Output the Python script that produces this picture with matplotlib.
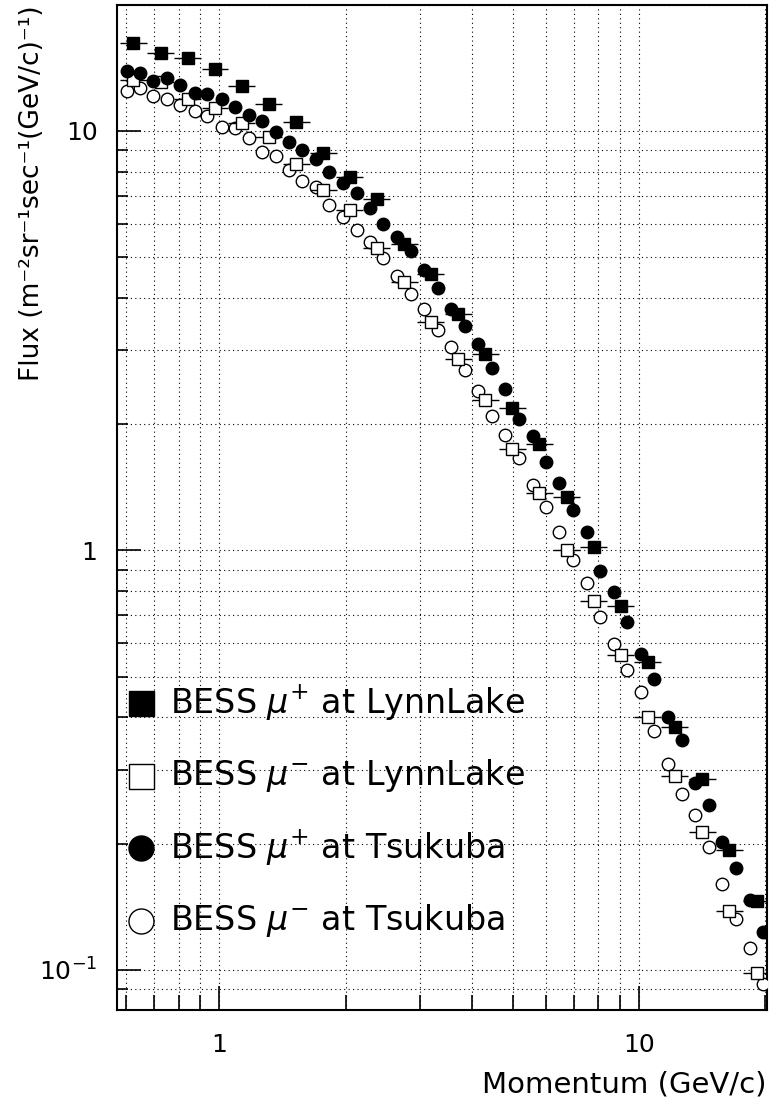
import matplotlib
matplotlib.use('Agg')
import matplotlib.pyplot as plt
import numpy as np
from matplotlib.ticker import LogLocator, FixedLocator, FixedFormatter, NullFormatter

# BESS LynnLake (wide momentum bins), momentum in GeV/c, flux in m^-2 sr^-1 s^-1 (GeV/c)^-1
ll_p = [0.623, 0.725, 0.841, 0.976, 1.131, 1.312, 1.524, 1.768, 2.047, 2.374,
        2.757, 3.193, 3.709, 4.301, 4.989, 5.791, 6.724, 7.798, 9.046, 10.50,
        12.18, 14.16, 16.42, 19.08]
ll_mu_plus = [16.23, 15.32, 14.95, 14.05, 12.80, 11.58, 10.51, 8.85, 7.77, 6.89,
              5.37, 4.55, 3.66, 2.94, 2.19, 1.792, 1.339, 1.018, 0.735, 0.543,
              0.3789, 0.2848, 0.1925, 0.1456]
ll_mu_minus = [13.23, 13.11, 11.92, 11.33, 10.43, 9.69, 8.33, 7.24, 6.48, 5.27,
               4.37, 3.51, 2.86, 2.28, 1.743, 1.373, 1.003, 0.759, 0.563, 0.4004,
               0.290, 0.2129, 0.1384, 0.0982]
ll_bin_half = 0.032  # half bin width in log10(p)

# BESS Tsukuba (narrow bins)
tk_p = [0.601, 0.646, 0.695, 0.750, 0.806, 0.873, 0.935, 1.012, 1.087, 1.174,
        1.263, 1.361, 1.464, 1.575, 1.699, 1.827, 1.973, 2.124, 2.285, 2.458,
        2.653, 2.856, 3.077, 3.313, 3.563, 3.841, 4.140, 4.463, 4.801, 5.184,
        5.580, 6.002, 6.457, 6.972, 7.506, 8.088, 8.704, 9.378, 10.11, 10.88,
        11.75, 12.66, 13.60, 14.66, 15.80, 17.03, 18.39, 19.72]
tk_mu_plus = [13.90, 13.77, 13.14, 13.36, 12.87, 12.34, 12.25, 11.94, 11.39, 10.90,
              10.56, 9.96, 9.40, 8.99, 8.59, 7.97, 7.53, 7.10, 6.54, 6.00,
              5.60, 5.16, 4.65, 4.22, 3.76, 3.43, 3.10, 2.72, 2.42, 2.06,
              1.875, 1.628, 1.451, 1.249, 1.103, 0.894, 0.796, 0.674, 0.566, 0.494,
              0.3995, 0.3534, 0.2786, 0.2472, 0.2021, 0.1753, 0.1468, 0.1230]
tk_mu_minus = [12.48, 12.64, 12.14, 11.90, 11.53, 11.16, 10.88, 10.22, 10.15, 9.61,
               8.93, 8.73, 8.07, 7.60, 7.34, 6.67, 6.25, 5.79, 5.43, 4.97,
               4.51, 4.08, 3.77, 3.35, 3.05, 2.69, 2.40, 2.09, 1.882, 1.661,
               1.432, 1.271, 1.103, 0.946, 0.838, 0.693, 0.598, 0.519, 0.4607, 0.3718,
               0.3098, 0.2627, 0.2341, 0.1961, 0.1601, 0.1320, 0.1126, 0.0926]

legend_labels = [r'BESS $\mu^{+}$ at LynnLake', r'BESS $\mu^{-}$ at LynnLake',
                 r'BESS $\mu^{+}$ at Tsukuba', r'BESS $\mu^{-}$ at Tsukuba']

plt.rcParams['mathtext.fontset'] = 'dejavusans'

fig = plt.figure(figsize=(7.71, 11.01), dpi=100)
ax = fig.add_axes([117/771, 1-1010.4/1101, 650/771, 1005.7/1101])
ax.set_xscale('log')
ax.set_yscale('log')
ax.set_xlim(0.57, 20.2)
ax.set_ylim(0.08, 20)

ll_p_arr = np.array(ll_p)
xerr = [ll_p_arr - ll_p_arr / 10**ll_bin_half, ll_p_arr * 10**ll_bin_half - ll_p_arr]

ms = 9
ax.plot(tk_p, tk_mu_minus, 'o', ms=ms, mfc='white', mec='black', mew=1, zorder=3)
ax.errorbar(ll_p, ll_mu_minus, xerr=xerr, fmt='s', ms=ms, mfc='white', mec='black',
            mew=1, ecolor='black', elinewidth=1, capsize=0, zorder=3)
ax.plot(tk_p, tk_mu_plus, 'o', ms=ms, color='black', zorder=4)
ax.errorbar(ll_p, ll_mu_plus, xerr=xerr, fmt='s', ms=ms, color='black',
            ecolor='black', elinewidth=1, capsize=0, zorder=4)

# ticks & grid
ax.xaxis.set_major_locator(FixedLocator([1, 10]))
ax.xaxis.set_major_formatter(FixedFormatter(['1', '10']))
ax.xaxis.set_minor_locator(LogLocator(base=10, subs=np.arange(2, 10)))
ax.xaxis.set_minor_formatter(NullFormatter())
ax.yaxis.set_major_locator(FixedLocator([0.1, 1, 10]))
ax.yaxis.set_major_formatter(FixedFormatter([r'$10^{-1}$', '1', '10']))
ax.yaxis.set_minor_locator(LogLocator(base=10, subs=np.arange(2, 10)))
ax.yaxis.set_minor_formatter(NullFormatter())

ax.tick_params(axis='both', which='both', direction='in', top=False, right=False,
               width=1.2, labelsize=18)
ax.tick_params(axis='x', which='major', length=17, pad=16)
ax.tick_params(axis='x', which='minor', length=11)
ax.tick_params(axis='y', which='major', length=17, pad=14)
ax.tick_params(axis='y', which='minor', length=8)
ax.grid(True, which='both', linestyle=(0, (1, 3)), color='black', linewidth=0.8)
for sp in ax.spines.values():
    sp.set_linewidth(1.5)

fig.text(767/771, 1-1085/1101, 'Momentum (GeV/c)', ha='right', va='center', fontsize=21)
fig.text(32/771, 1-5/1101, 'Flux (m\u207b\u00b2sr\u207b\u00b9sec\u207b\u00b9(GeV/c)\u207b\u00b9)',
         rotation=90, ha='center', va='top', fontsize=19)

# legend drawn by hand (big markers, no frame)
leg_y = [0.3054, 0.2333, 0.1612, 0.0890]
leg_style = [dict(marker='s', color='black'),
             dict(marker='s', mfc='white', mec='black', mew=1),
             dict(marker='o', color='black'),
             dict(marker='o', mfc='white', mec='black', mew=1)]
for yy, lab, st in zip(leg_y, legend_labels, leg_style):
    ax.plot([0.0369], [yy], transform=ax.transAxes, ms=18, ls='none', zorder=5, **st)
    ax.text(0.0815, yy, lab, transform=ax.transAxes, fontsize=24, va='center', ha='left', zorder=5)

fig.savefig('out.png', dpi=100)
